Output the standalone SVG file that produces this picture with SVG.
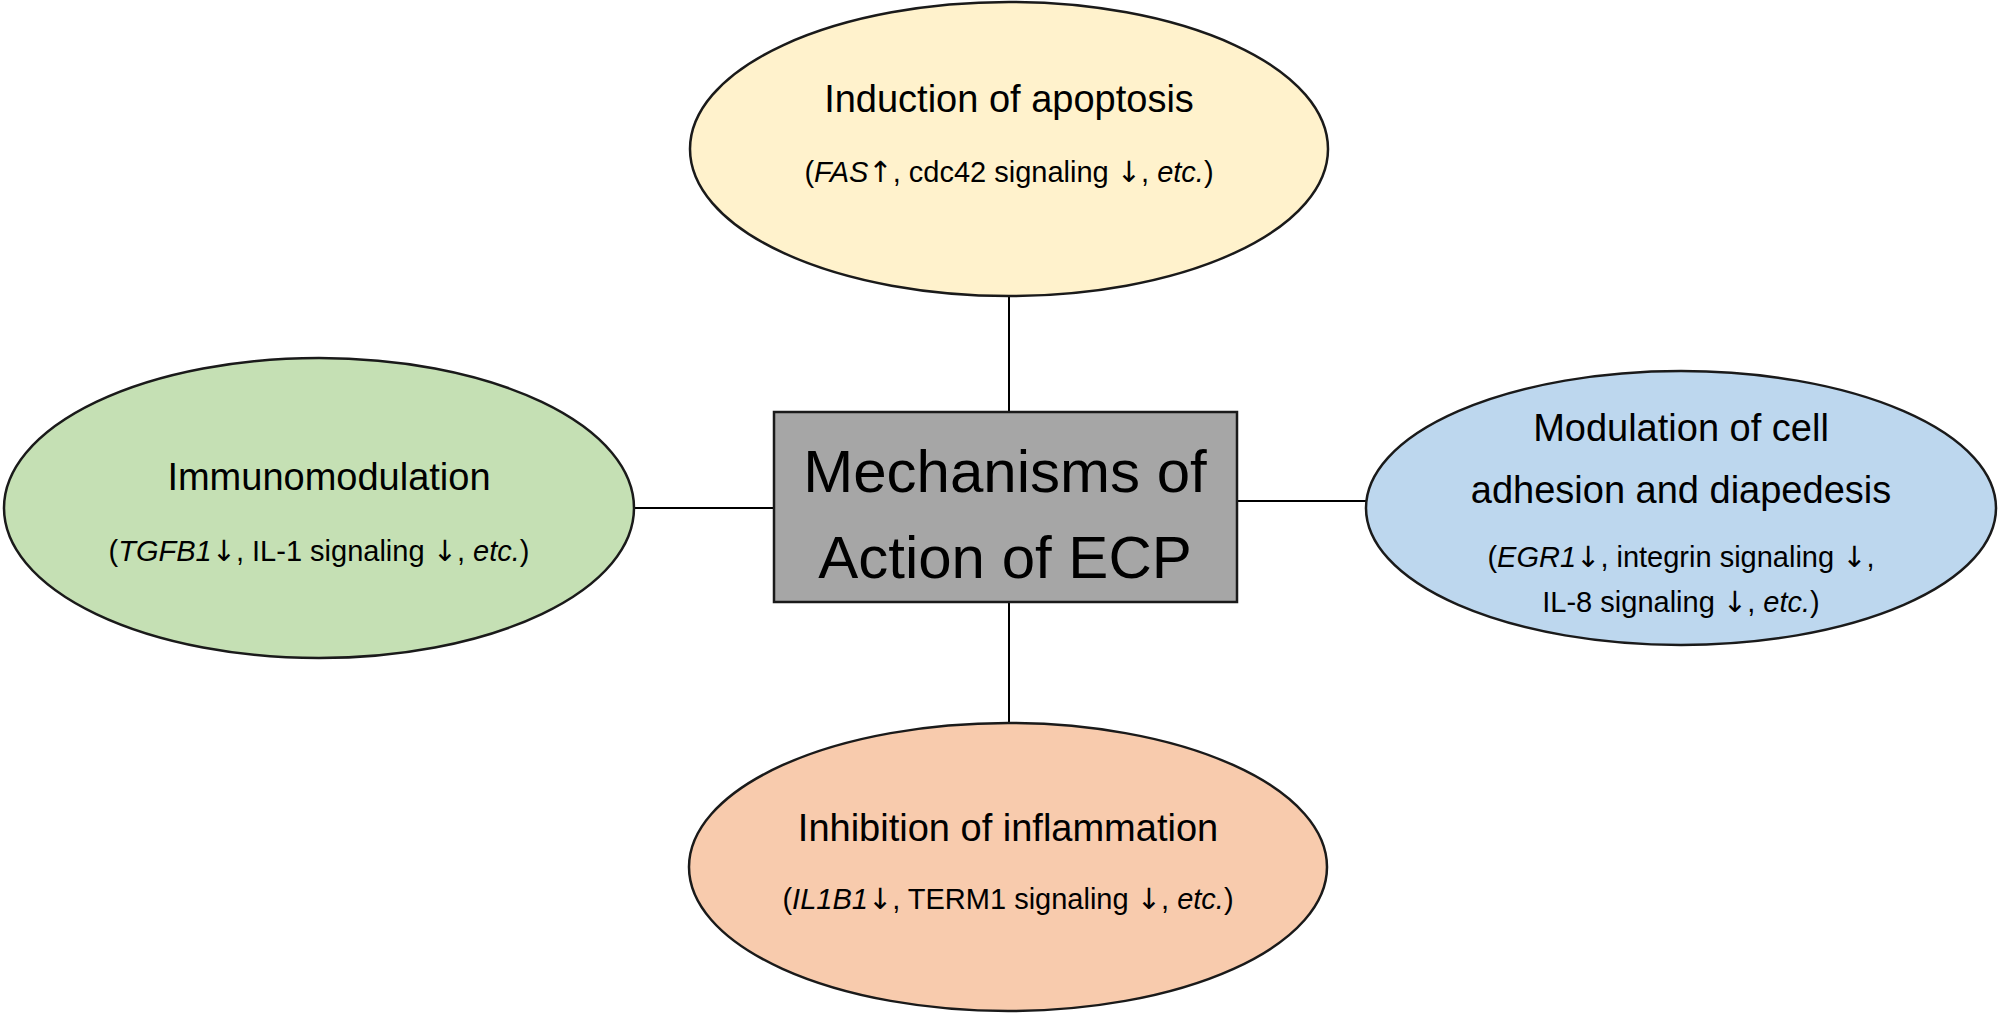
<svg xmlns="http://www.w3.org/2000/svg" width="2000" height="1019" viewBox="0 0 2000 1019">
<style>
.n{stroke:#1a1a1a;stroke-width:2.5}
text{font-family:"Liberation Sans",Arial,sans-serif;fill:#000;text-anchor:middle}
.t{font-size:38px}
.s{font-size:29px}
.c{font-size:60px}
.a{font-family:"DejaVu Sans",sans-serif;fill:#000}
.i{font-style:italic}
line{stroke:#000;stroke-width:2}
</style>
<rect width="2000" height="1019" fill="#fff"/>
<g id="connectors">
<line x1="1009" y1="296" x2="1009" y2="412"/>
<line x1="1009" y1="602" x2="1009" y2="724"/>
<line x1="634" y1="508" x2="774" y2="508"/>
<line x1="1237" y1="501" x2="1368" y2="501"/>
</g>
<g id="center">
<rect class="n" x="774" y="412" width="463" height="190" fill="#A6A6A6"/>
<text class="c" x="1005" y="492">Mechanisms of</text>
<text class="c" x="1005" y="578">Action of ECP</text>
</g>
<g id="apoptosis">
<ellipse class="n" cx="1009" cy="149" rx="319" ry="147" fill="#FFF2CC"/>
<text class="t" x="1009" y="112">Induction of apoptosis</text>
<text class="s" x="1009" y="182">(<tspan class="i">FAS</tspan><tspan class="a">↑</tspan>, cdc42 signaling <tspan class="a">↓</tspan>, <tspan class="i">etc.</tspan>)</text>
</g>
<g id="immuno">
<ellipse class="n" cx="319" cy="508" rx="315" ry="150" fill="#C5E0B4"/>
<text class="t" x="329" y="490">Immunomodulation</text>
<text class="s" x="319" y="561">(<tspan class="i">TGFB1</tspan><tspan class="a">↓</tspan>, IL-1 signaling <tspan class="a">↓</tspan>, <tspan class="i">etc.</tspan>)</text>
</g>
<g id="adhesion">
<ellipse class="n" cx="1681" cy="508" rx="315" ry="137" fill="#BDD7EE"/>
<text class="t" x="1681" y="441">Modulation of cell</text>
<text class="t" x="1681" y="503">adhesion and diapedesis</text>
<text class="s" x="1681" y="567">(<tspan class="i">EGR1</tspan><tspan class="a">↓</tspan>, integrin signaling <tspan class="a">↓</tspan>,</text>
<text class="s" x="1681" y="612">IL-8 signaling <tspan class="a">↓</tspan>, <tspan class="i">etc.</tspan>)</text>
</g>
<g id="inflammation">
<ellipse class="n" cx="1008" cy="867" rx="319" ry="144" fill="#F8CBAD"/>
<text class="t" x="1008" y="841">Inhibition of inflammation</text>
<text class="s" x="1008" y="909">(<tspan class="i">IL1B1</tspan><tspan class="a">↓</tspan>, TERM1 signaling <tspan class="a">↓</tspan>, <tspan class="i">etc.</tspan>)</text>
</g>
</svg>
